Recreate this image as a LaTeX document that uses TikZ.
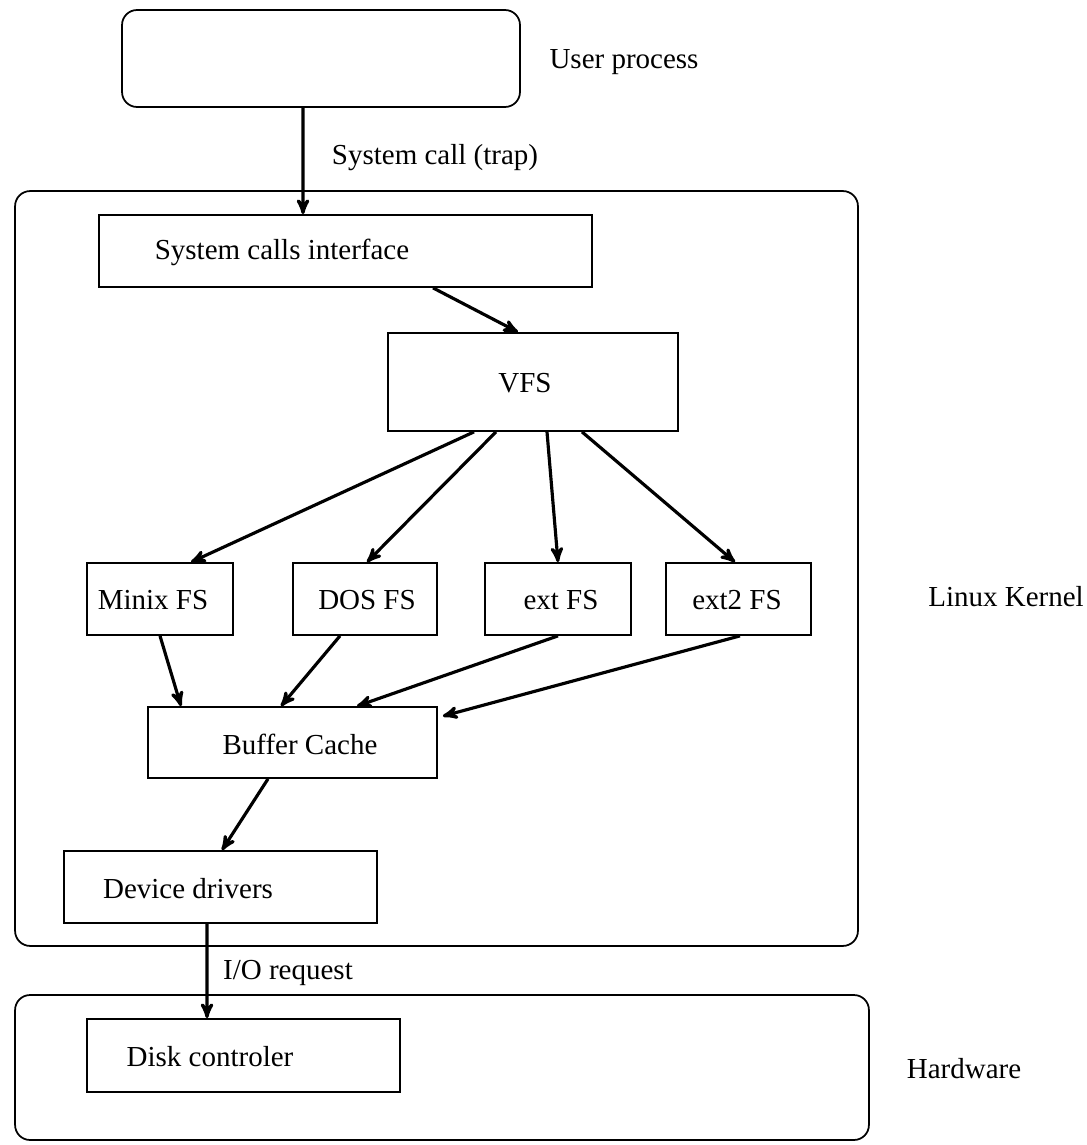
\documentclass[tikz,border=0pt]{standalone}
\usepackage{fontspec}
\setmainfont{Liberation Serif}
\usetikzlibrary{arrows}

\begin{document}
\begin{tikzpicture}[->,>=stealth',x=0.02cm,y=-0.02cm,
    every node/.style={font=\fontsize{16.5}{20}\selectfont},
    box/.style={rectangle,draw,line width=1pt},
    roundbox/.style={rectangle,draw,line width=1pt,rounded corners=0.3cm}]

    \useasboundingbox (0,0) rectangle (1086,1145);

    % outer layers
    \node[roundbox,
          minimum width = 7.96cm,
          minimum height = 1.94cm
          ] (user) at (321,58.5) {};
    \node[] (userlab) at (624,62) {User process};

    \node[roundbox,
          minimum width = 16.86cm,
          minimum height = 15.1cm
          ] (kernel) at (436.5,568.5) {};
    \node[] (kernellab) at (1006,597) {Linux Kernel};

    \node[roundbox,
          minimum width = 17.08cm,
          minimum height = 2.9cm
          ] (hw) at (442,1067.5) {};
    \node[] (hwlab) at (964,1069) {Hardware};

    % kernel parts
    \node[box,
          minimum width = 9.86cm,
          minimum height = 1.44cm
          ] (sci) at (345.5,251) {};
    \node[] (scilab) at (282,252) {System calls interface};

    \node[box,
          minimum width = 5.8cm,
          minimum height = 1.96cm
          ] (vfs) at (533,382) {};
    \node[] (vfslab) at (525,383) {VFS};

    \node[box,
          minimum width = 2.92cm,
          minimum height = 1.44cm
          ] (minix) at (160,599) {};
    \node[] (minixlab) at (153,600) {Minix FS};

    \node[box,
          minimum width = 2.88cm,
          minimum height = 1.44cm
          ] (dos) at (365,599) {};
    \node[] (doslab) at (367,600) {DOS FS};

    \node[box,
          minimum width = 2.92cm,
          minimum height = 1.44cm
          ] (ext) at (558,599) {};
    \node[] (extlab) at (561,600) {ext FS};

    \node[box,
          minimum width = 2.9cm,
          minimum height = 1.44cm
          ] (exttwo) at (738.5,599) {};
    \node[] (exttwolab) at (737,600) {ext2 FS};

    \node[box,
          minimum width = 5.78cm,
          minimum height = 1.42cm
          ] (bc) at (292.5,742.5) {};
    \node[] (bclab) at (300,744) {Buffer Cache};

    \node[box,
          minimum width = 6.26cm,
          minimum height = 1.44cm
          ] (dd) at (220.5,887) {};
    \node[] (ddlab) at (188,889) {Device drivers};

    \node[box,
          minimum width = 6.26cm,
          minimum height = 1.46cm
          ] (disk) at (243.5,1055.5) {};
    \node[] (disklab) at (210,1057) {Disk controler};

    % edge labels
    \node[] (traplab) at (435,158) {System call (trap)};
    \node[] (iolab) at (288,973) {I/O request};

    \path[line width=1.8pt]
    ([xshift=-0.36cm]user.south) edge ([xshift=-0.85cm]sci.north)
    ([xshift=1.75cm]sci.south) edge ([xshift=-0.3cm]vfs.north)
    ([xshift=-1.18cm]vfs.south) edge ([xshift=0.62cm]minix.north)
    ([xshift=-0.74cm]vfs.south) edge ([xshift=0.04cm]dos.north)
    ([xshift=0.28cm]vfs.south) edge (ext.north)
    ([xshift=0.98cm]vfs.south) edge ([xshift=-0.07cm]exttwo.north)
    (minix.south) edge ([xshift=-2.23cm]bc.north)
    ([xshift=-0.5cm]dos.south) edge ([xshift=-0.23cm]bc.north)
    (ext.south) edge ([xshift=1.29cm]bc.north)
    ([xshift=0.03cm]exttwo.south) edge ([shift={(0.1cm,-0.2cm)}]bc.north east)
    ([xshift=-0.49cm]bc.south) edge ([xshift=0.03cm]dd.north)
    ([xshift=-0.27cm]dd.south) edge ([xshift=-0.73cm]disk.north);

\end{tikzpicture}
\end{document}
